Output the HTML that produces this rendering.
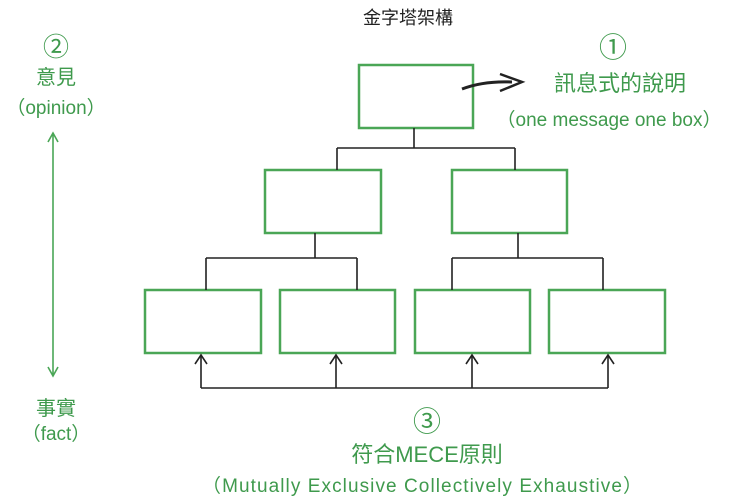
<!DOCTYPE html>
<html><head><meta charset="utf-8"><style>
body{margin:0;background:#fff;width:740px;height:499px;overflow:hidden}
svg{display:block}
.g{fill:#3f9a4d;font-family:"Liberation Sans","Noto Sans CJK TC",sans-serif}
.k{fill:#222;font-family:"Liberation Sans","Noto Sans CJK TC",sans-serif}
</style></head><body>
<svg width="740" height="499" viewBox="0 0 740 499">
<g fill="none" stroke="#4aa656" stroke-width="2.5">
<rect x="359" y="65" width="114" height="63"/>
<rect x="265" y="170" width="116" height="63"/>
<rect x="452" y="170" width="115" height="63"/>
<rect x="145" y="290" width="116" height="63"/>
<rect x="280" y="290" width="115" height="63"/>
<rect x="415" y="290" width="115" height="63"/>
<rect x="549" y="290" width="116" height="63"/>
</g>
<g fill="none" stroke="#222" stroke-width="1.6">
<path d="M414 128V148M337 148H515M337 148V170M515 148V170"/>
<path d="M315 233V258M206 258H357M206 258V290M357 258V290"/>
<path d="M518 233V258M452 258H603M452 258V290M603 258V290"/>
<path d="M201 388H608M201 388V356M336 388V356M472 388V356M608 388V356"/>
<path d="M195 364L201 355L207 364M330 364L336 355L342 364M466 364L472 355L478 364M602 364L608 355L614 364"/>
<path d="M462 89C475 84 490 81 512 82" stroke-width="3"/>
<path d="M500 74L522 82L500 91" stroke-width="2.5"/>
</g>
<g fill="none" stroke="#4aa656" stroke-width="1.6">
<path d="M53 134V375M48 142L53 133L58 142M48 367L53 376L58 367"/>
</g>
<text x="408" y="24" class="k" font-size="18" text-anchor="middle">金字塔架構</text>
<text x="613" y="57" class="g" font-size="28" text-anchor="middle">①</text>
<text x="620" y="91" class="g" font-size="22" text-anchor="middle">訊息式的說明</text>
<text x="609" y="126" class="g" font-size="19" text-anchor="middle">（one message one box）</text>
<text x="56" y="56" class="g" font-size="26" text-anchor="middle">②</text>
<text x="56" y="84" class="g" font-size="20" text-anchor="middle">意見</text>
<text x="56" y="114" class="g" font-size="19" text-anchor="middle">（opinion）</text>
<text x="56" y="415" class="g" font-size="20" text-anchor="middle">事實</text>
<text x="56" y="440" class="g" font-size="19" text-anchor="middle">（fact）</text>
<text x="427" y="431" class="g" font-size="28" text-anchor="middle">③</text>
<text x="427" y="462" class="g" font-size="22" text-anchor="middle">符合MECE原則</text>
<text x="422" y="492" class="g" font-size="19" text-anchor="middle" textLength="440">（Mutually Exclusive Collectively Exhaustive）</text>
</svg>
</body></html>
